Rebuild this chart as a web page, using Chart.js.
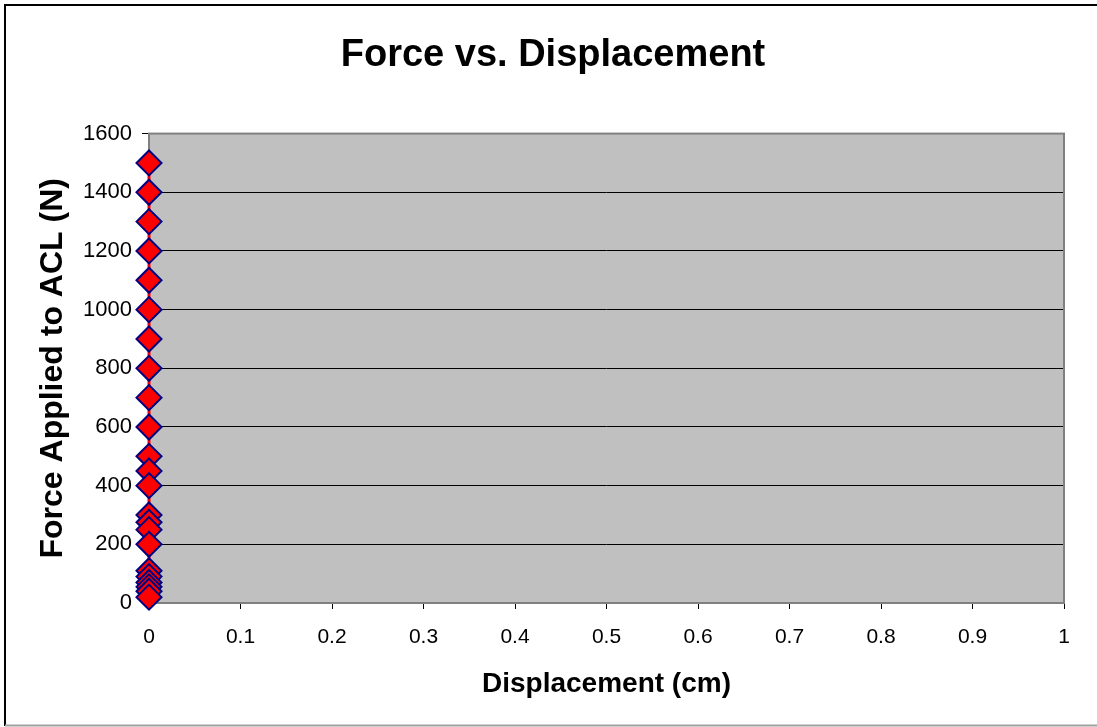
<!DOCTYPE html>
<html>
<head>
<meta charset="utf-8">
<title>Force vs. Displacement</title>
<script src="https://cdn.jsdelivr.net/npm/chart.js@4/dist/chart.umd.min.js"></script>
<style>
  html, body { margin: 0; padding: 0; background: #fff; }
  canvas { display: block; }
</style>
</head>
<body>
<canvas id="chart" width="1097" height="727"></canvas>
<script>
// Measured ACL loading: applied force (N) against displacement (cm)
const forceN = [1500, 1400, 1300, 1200, 1100, 1000, 900, 800, 700, 600, 500, 450, 400,
                300, 275, 250, 200, 110, 90, 70, 55, 40, 20];
const displacementCm = [0, 0, 0, 0, 0, 0, 0, 0, 0, 0, 0, 0, 0,
                        0, 0, 0, 0, 0, 0, 0, 0, 0, 0];
const xTickLabels = ['0', '0.1', '0.2', '0.3', '0.4', '0.5', '0.6', '0.7', '0.8', '0.9', '1'];
const yTickLabels = ['0', '200', '400', '600', '800', '1000', '1200', '1400', '1600'];

const FONT = '"Liberation Sans", Arial, sans-serif';

const points = forceN.map((f, i) => ({ x: displacementCm[i], y: f }));

// Outer frame, grey plot area and its border
const framePlugin = {
  id: 'frame',
  beforeDraw(chart) {
    const { ctx, chartArea: a } = chart;
    ctx.save();
    ctx.fillStyle = '#ffffff';
    ctx.fillRect(0, 0, chart.width, chart.height);
    ctx.fillStyle = '#c0c0c0';
    ctx.fillRect(a.left, a.top, a.right - a.left, a.bottom - a.top);
    ctx.strokeStyle = '#000000';
    ctx.lineWidth = 2;
    ctx.beginPath();
    ctx.moveTo(5, 726);
    ctx.lineTo(5, 5);
    ctx.lineTo(chart.width + 2, 5);
    ctx.stroke();
    ctx.strokeStyle = '#a0a0a0';
    ctx.beginPath();
    ctx.moveTo(5, 725.5);
    ctx.lineTo(chart.width, 725.5);
    ctx.stroke();
    ctx.restore();
  },
  beforeDatasetsDraw(chart) {
    const { ctx, chartArea: a } = chart;
    ctx.save();
    ctx.strokeStyle = '#808080';
    ctx.lineWidth = 2;
    ctx.strokeRect(a.left, a.top, a.right - a.left, a.bottom - a.top);
    ctx.restore();
  }
};

new Chart(document.getElementById('chart'), {
  type: 'scatter',
  data: {
    datasets: [{
      label: 'Force',
      data: points,
      showLine: true,
      borderColor: '#ff0000',
      borderWidth: 3,
      backgroundColor: '#ff0000',
      pointStyle: 'rectRot',
      pointRadius: 12.5,
      pointHoverRadius: 12.5,
      pointBackgroundColor: '#ff0000',
      pointBorderColor: '#000080',
      pointBorderWidth: 2,
      clip: false
    }]
  },
  options: {
    responsive: false,
    animation: false,
    devicePixelRatio: 1,
    layout: { padding: { left: 42, right: 33, top: 0, bottom: 0 } },
    plugins: {
      legend: { display: false },
      tooltip: { enabled: false },
      title: {
        display: true,
        text: 'Force vs. Displacement',
        color: '#000',
        font: { family: FONT, size: 38, weight: 'bold' },
        padding: { top: 33, bottom: 55 }
      }
    },
    scales: {
      x: {
        type: 'linear',
        min: 0,
        max: 1,
        afterFit(scale) { scale.height = 124; },
        afterBuildTicks(scale) {
          scale.ticks = xTickLabels.map(t => ({ value: parseFloat(t) }));
        },
        ticks: {
          color: '#000',
          font: { family: FONT, size: 21 },
          padding: 16,
          maxRotation: 0,
          autoSkip: false,
          callback: (v, i) => xTickLabels[i]
        },
        grid: {
          drawOnChartArea: false,
          tickLength: 6,
          tickColor: '#000',
          lineWidth: 1
        },
        border: { display: false },
        title: {
          display: true,
          text: 'Displacement (cm)',
          color: '#000',
          font: { family: FONT, size: 28, weight: 'bold' },
          padding: { top: 0, bottom: 26 }
        }
      },
      y: {
        type: 'linear',
        min: 0,
        max: 1600,
        afterFit(scale) { scale.width = 107; },
        afterBuildTicks(scale) {
          scale.ticks = yTickLabels.map(t => ({ value: parseFloat(t) }));
        },
        ticks: {
          color: '#000',
          font: { family: FONT, size: 22 },
          padding: 10,
          autoSkip: false,
          callback: (v, i) => yTickLabels[i]
        },
        grid: {
          color: '#000',
          tickColor: '#000',
          tickLength: 7,
          lineWidth: 1
        },
        border: { display: false },
        title: {
          display: true,
          text: 'Force Applied to ACL (N)',
          color: '#000',
          font: { family: FONT, size: 32, weight: 'bold', lineHeight: 0.5 },
          padding: { top: 3, bottom: 0 }
        }
      }
    }
  },
  plugins: [framePlugin]
});
</script>
</body>
</html>
